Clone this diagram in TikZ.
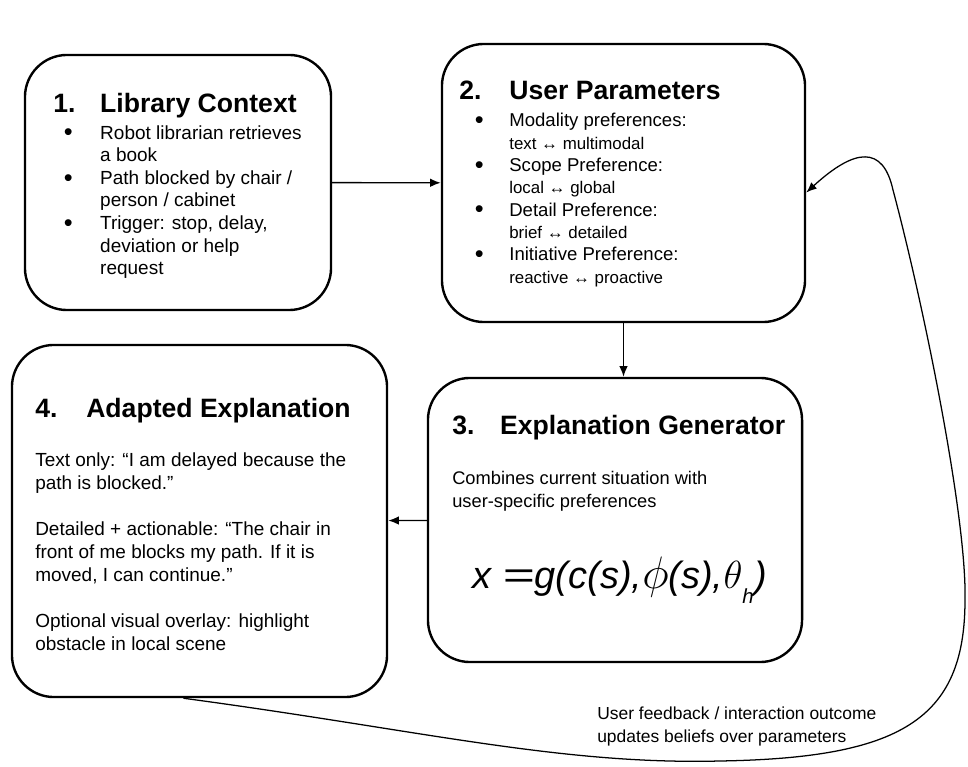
\documentclass[tikz,border=0pt]{standalone}
\usepackage{fontspec}
\setmainfont{Liberation Sans}
\usepackage{graphicx}
\usepackage{tikz}
\usetikzlibrary{arrows.meta}

\newcommand{\bul}[1][7.5pt]{\makebox[33.4pt][l]{\hspace*{#1}\raisebox{-1.2pt}{\fontsize{18}{16}\selectfont\textbullet}}}
\newcommand{\bulind}[1][33.4pt]{\hspace*{#1}}

\tikzset{
  box/.style={draw, line width=1.7pt, rounded corners=1.05cm, inner sep=0pt},
  ttl/.style={anchor=base west, inner sep=0pt, font=\fontsize{18.9}{22}\selectfont\bfseries},
  txt/.style={anchor=north west, inner sep=0pt, align=left},
  link/.style={->, line width=1pt},
}

\begin{document}
\begin{tikzpicture}[x=0.025cm, y=-0.025cm, >={Latex[length=7.5pt,width=6pt]}]
\useasboundingbox (0,0) rectangle (968,767);

% the four boxes
\node[box, minimum width=7.65cm, minimum height=6.375cm] (ctx) at (178,182.5) {};
\node[box, minimum width=9.075cm, minimum height=6.95cm] (params) at (623.5,183) {};
\node[box, minimum width=9.35cm, minimum height=7.1cm] (gen) at (615,520) {};
\node[box, minimum width=9.375cm, minimum height=8.8cm] (adapt) at (199.5,521) {};

% 1
\node[ttl] (ctxttl) at (53,113) {\makebox[33.4pt][l]{1.}Library Context};
\node[txt, font=\fontsize{13.5}{16.1}\selectfont] (ctxtxt) at (53,125)
  {\bul Robot librarian retrieves\\ \bulind a book\\
   \bul Path blocked by chair /\\ \bulind person / cabinet\\
   \bul Trigger: stop, delay,\\ \bulind deviation or help\\ \bulind request};

% 2
\node[ttl] (paramsttl) at (459,100) {\makebox[35.6pt][l]{2.}User Parameters};
\node[txt, font=\fontsize{13.2}{15.9}\selectfont] (paramstxt) at (459,113)
  {\bul[11pt]\hspace*{2.2pt}Modality preferences:\\ \bulind[35.6pt]{\fontsize{12}{15.9}\selectfont text ↔ multimodal}\\
   \bul[11pt]\hspace*{2.2pt}Scope Preference:\\ \bulind[35.6pt]{\fontsize{12}{15.9}\selectfont local ↔ global}\\
   \bul[11pt]\hspace*{2.2pt}Detail Preference:\\ \bulind[35.6pt]{\fontsize{12}{15.9}\selectfont brief ↔ detailed}\\
   \bul[11pt]\hspace*{2.2pt}Initiative Preference:\\ \bulind[35.6pt]{\fontsize{12}{15.9}\selectfont reactive ↔ proactive}};

% 3
\node[ttl] (genttl) at (452,435) {\makebox[34.1pt][l]{3.}Explanation Generator};
\node[txt, font=\fontsize{13}{16.4}\selectfont] (gentxt) at (452,471)
  {Combines current situation with\\ user-specific preferences};
\node[anchor=base west, inner sep=0pt, font=\fontsize{27}{30}\selectfont\itshape] (eq) at (472,588)
  {x\hspace{0.3em}\scalebox{1.45}[1]{=}g(c(s),\scalebox{1.3}{$\phi$}(s),\scalebox{1.12}{$\theta$}\raisebox{-0.4em}{\fontsize{14.5}{15}\selectfont h}\kern0.02em)};

% 4
\node[ttl] (adaptttl) at (35,417) {\makebox[36.3pt][l]{4.}Adapted Explanation};
\node[txt, font=\fontsize{13.5}{16.36}\selectfont] (adapttxt) at (35,452)
  {Text only: “I am delayed because the\\ path is blocked.”\\[16.36pt]
   Detailed + actionable: “The chair in\\ front of me blocks my path. If it is\\ moved, I can continue.”\\[16.36pt]
   Optional visual overlay: highlight\\ obstacle in local scene};

% flow
\draw[link] (ctx) -- (params);
\draw[link] (params.south) -- (params.south |- gen.north);
\draw[link] (gen) -- (adapt);

% feedback loop
\coordinate (fbstart) at ([xshift=-0.4cm]adapt.south);
\draw[->, line width=0.9pt] (fbstart) .. controls (420,730) and (560,765) .. (720,761)
  .. controls (900,758) and (965,720) .. (965,600)
  .. controls (967,520) and (925,310) .. (893,190)
  .. controls (883,145) and (855,148) .. (params.-3);
\node[txt, font=\fontsize{12.4}{16.4}\selectfont] (fb) at (597,707)
  {User feedback / interaction outcome\\ updates beliefs over parameters};
\end{tikzpicture}
\end{document}
